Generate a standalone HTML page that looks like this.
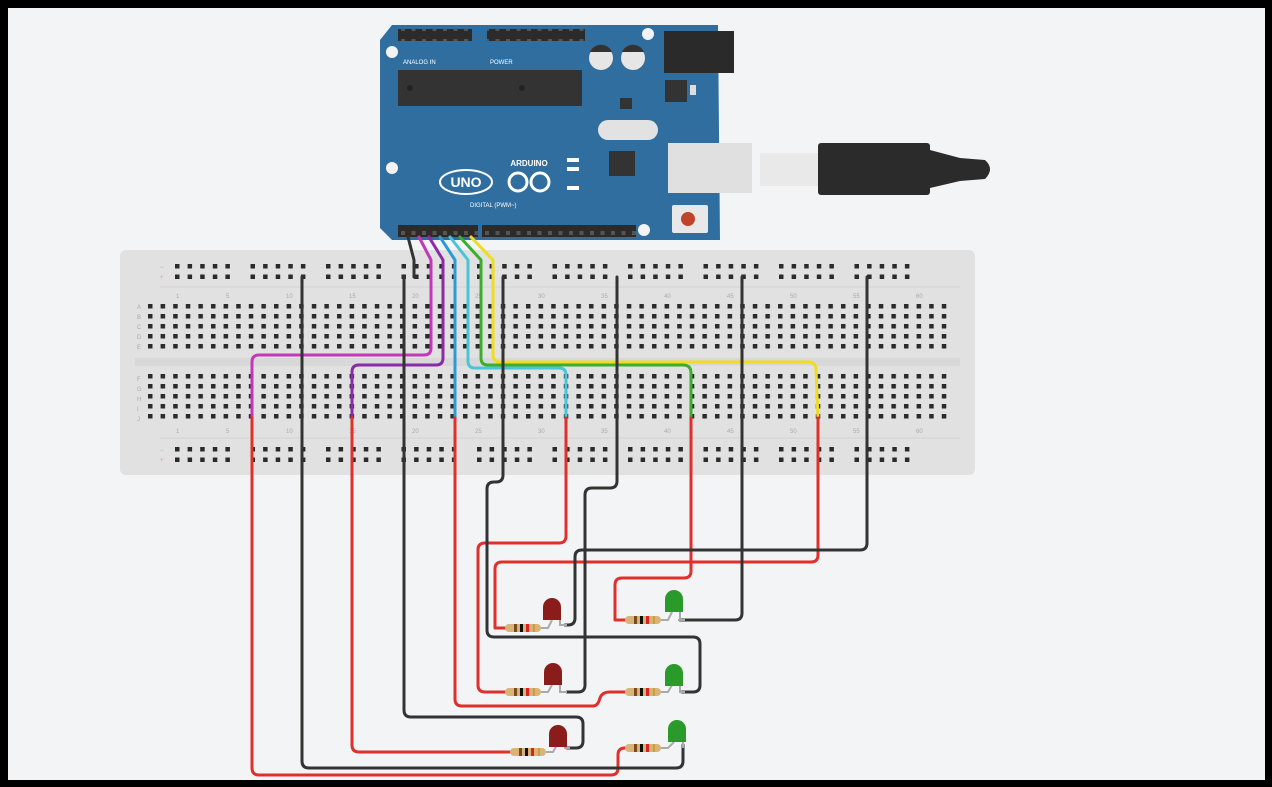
<!DOCTYPE html>
<html><head><meta charset="utf-8"><style>
html,body{margin:0;padding:0;background:#000;}
svg{display:block;}
</style></head><body>
<svg width="1272" height="787" viewBox="0 0 1272 787" xmlns="http://www.w3.org/2000/svg" font-family="Liberation Sans, sans-serif">
<defs>
<pattern id="dots" x="147" y="302" width="12.6" height="10" patternUnits="userSpaceOnUse">
<rect x="1" y="2" width="4.5" height="4.5" fill="#2a2a2a"/></pattern>
<pattern id="rail" x="175" y="263" width="75.5" height="10.5" patternUnits="userSpaceOnUse">
<rect x="0" y="1" width="4.5" height="4.5" fill="#2a2a2a"/><rect x="12.6" y="1" width="4.5" height="4.5" fill="#2a2a2a"/><rect x="25.2" y="1" width="4.5" height="4.5" fill="#2a2a2a"/><rect x="37.8" y="1" width="4.5" height="4.5" fill="#2a2a2a"/><rect x="50.4" y="1" width="4.5" height="4.5" fill="#2a2a2a"/></pattern>
<pattern id="rail2" x="175" y="446" width="75.5" height="10.5" patternUnits="userSpaceOnUse">
<rect x="0" y="1" width="4.5" height="4.5" fill="#2a2a2a"/><rect x="12.6" y="1" width="4.5" height="4.5" fill="#2a2a2a"/><rect x="25.2" y="1" width="4.5" height="4.5" fill="#2a2a2a"/><rect x="37.8" y="1" width="4.5" height="4.5" fill="#2a2a2a"/><rect x="50.4" y="1" width="4.5" height="4.5" fill="#2a2a2a"/></pattern>
<pattern id="hdr" x="398" y="0" width="10.5" height="12" patternUnits="userSpaceOnUse">
<rect x="0" y="0" width="10.5" height="12" fill="#2b2b2b"/><rect x="3" y="3" width="4" height="4" fill="#555"/></pattern>
<g id="res"><rect x="0" y="-4" width="36" height="8" rx="4" fill="#d9b47a"/><rect x="9" y="-4" width="3" height="8" fill="#7a4a1a"/><rect x="15" y="-4" width="3" height="8" fill="#111"/><rect x="21" y="-4" width="3" height="8" fill="#e02020"/><rect x="28" y="-4" width="2" height="8" fill="#c8a040"/></g>
</defs>
<rect x="0" y="0" width="1272" height="787" fill="#000"/>
<rect x="8" y="8" width="1257" height="772" fill="#f3f4f6"/>

<!-- breadboard -->
<rect x="120" y="250" width="855" height="225" rx="6" fill="#e1e1e1"/>
<line x1="160" y1="287" x2="960" y2="287" stroke="#d2d2d2"/>
<line x1="160" y1="438" x2="960" y2="438" stroke="#d2d2d2"/>
<rect x="135" y="358" width="825" height="8" fill="#d8d8d8"/>
<rect x="147" y="302" width="800" height="50" fill="url(#dots)"/>
<rect x="147" y="374" width="800" height="50" fill="url(#dots)" style="transform:translateY(0)"/>
<rect x="175" y="263" width="755" height="21" fill="url(#rail)"/>
<rect x="175" y="446" width="755" height="21" fill="url(#rail2)"/>
<g font-size="6" fill="#aaa">
<text x="176" y="298">1</text><text x="226" y="298">5</text><text x="286" y="298">10</text><text x="349" y="298">15</text><text x="412" y="298">20</text><text x="475" y="298">25</text><text x="538" y="298">30</text><text x="601" y="298">35</text><text x="664" y="298">40</text><text x="727" y="298">45</text><text x="790" y="298">50</text><text x="853" y="298">55</text><text x="916" y="298">60</text>
<text x="176" y="433">1</text><text x="226" y="433">5</text><text x="286" y="433">10</text><text x="349" y="433">15</text><text x="412" y="433">20</text><text x="475" y="433">25</text><text x="538" y="433">30</text><text x="601" y="433">35</text><text x="664" y="433">40</text><text x="727" y="433">45</text><text x="790" y="433">50</text><text x="853" y="433">55</text><text x="916" y="433">60</text>
<text x="137" y="309">A</text><text x="137" y="319">B</text><text x="137" y="329">C</text><text x="137" y="339">D</text><text x="137" y="349">E</text>
<text x="137" y="381">F</text><text x="137" y="391">G</text><text x="137" y="401">H</text><text x="137" y="411">I</text><text x="137" y="421">J</text>
<text x="160" y="269" fill="#9bc">−</text><text x="160" y="279" fill="#e99">+</text><text x="160" y="452" fill="#9bc">−</text><text x="160" y="462" fill="#e99">+</text>
</g>

<!-- Arduino -->
<path d="M392 25 L718 25 L720 240 L392 240 L380 228 L380 40 Z" fill="#2f6e9f"/>
<rect x="398" y="29" width="74" height="12" fill="url(#hdr)"/>
<rect x="487" y="29" width="98" height="12" fill="url(#hdr)"/>
<rect x="398" y="225" width="80" height="12" fill="url(#hdr)"/>
<rect x="482" y="225" width="154" height="12" fill="url(#hdr)"/>
<rect x="398" y="70" width="184" height="36" fill="#333"/>
<circle cx="410" cy="88" r="3" fill="#222"/><circle cx="522" cy="88" r="3" fill="#222"/>
<circle cx="392" cy="52" r="6" fill="#f3f3f3"/><circle cx="648" cy="34" r="6" fill="#f3f3f3"/><circle cx="392" cy="168" r="6" fill="#f3f3f3"/><circle cx="644" cy="230" r="6" fill="#f3f3f3"/>
<circle cx="601" cy="58" r="12" fill="#e6e6e6"/><circle cx="633" cy="58" r="12" fill="#e6e6e6"/>
<path d="M590 52 A12 12 0 0 1 612 52 Z" fill="#333"/><path d="M622 52 A12 12 0 0 1 644 52 Z" fill="#333"/>
<rect x="664" y="31" width="70" height="42" fill="#2a2a2a"/>
<rect x="665" y="80" width="22" height="22" fill="#333"/><rect x="690" y="85" width="6" height="10" fill="#ddd"/>
<rect x="620" y="98" width="12" height="11" fill="#333"/>
<rect x="598" y="120" width="60" height="20" rx="10" fill="#e2e2e2"/>
<rect x="609" y="151" width="26" height="25" fill="#333"/>
<rect x="668" y="143" width="84" height="50" fill="#e0e0e0"/>
<rect x="760" y="153" width="60" height="33" fill="#e9e9e9"/>
<rect x="818" y="143" width="112" height="52" rx="3" fill="#2b2b2b"/>
<path d="M930 150 L960 158 L985 160 Q995 169 985 179 L960 181 L930 188 Z" fill="#2b2b2b"/>
<rect x="672" y="205" width="36" height="28" rx="2" fill="#e8e8e8"/><circle cx="688" cy="219" r="7" fill="#c0442a"/>
<g fill="#fff">
<ellipse cx="466" cy="182" rx="26" ry="12" fill="none" stroke="#fff" stroke-width="2"/>
<text x="466" y="187" font-size="14" font-weight="bold" text-anchor="middle">UNO</text>
<circle cx="518" cy="182" r="9" fill="none" stroke="#fff" stroke-width="3"/><circle cx="540" cy="182" r="9" fill="none" stroke="#fff" stroke-width="3"/>
<text x="529" y="166" font-size="8" text-anchor="middle" font-weight="bold">ARDUINO</text>
<text x="470" y="207" font-size="6">DIGITAL (PWM~)</text>
<text x="403" y="64" font-size="6">ANALOG IN</text><text x="490" y="64" font-size="6">POWER</text>
<rect x="567" y="158" width="12" height="4" /><rect x="567" y="167" width="12" height="4"/><rect x="567" y="186" width="12" height="4"/>
</g>

<!-- Wires -->
<g fill="none" stroke-width="3" stroke-linejoin="round" stroke-linecap="round">
<path d="M408 237 L414 260 L414 277" stroke="#333"/>
<path d="M419 237 L431 260 L431 348 Q431 355 424 355 L259 355 Q252 355 252 362 L252 418" stroke="#c536b8"/>
<path d="M429 237 L443 260 L443 358 Q443 365 436 365 L359 365 Q352 365 352 372 L352 418" stroke="#8a2ca8"/>
<path d="M440 237 L455 260 L455 418" stroke="#2d9ad8"/>
<path d="M450 237 L468 260 L468 361 Q468 368 475 368 L559 368 Q566 368 566 375 L566 418" stroke="#4cc4d8"/>
<path d="M460 237 L481 260 L481 358 Q481 365 488 365 L683 365 Q691 365 691 373 L691 418" stroke="#3cae2c"/>
<path d="M471 237 L493 260 L493 355 Q493 362 500 362 L808 362 Q816 362 816 370 L818 418" stroke="#f0dc20"/>
<!-- red -->
<path d="M252 418 L252 768 Q252 775 259 775 L611 775 Q618 775 618 768 L618 755 Q618 748 625 748" stroke="#e0302c"/>
<path d="M352 418 L352 745 Q352 752 359 752 L510 752" stroke="#e0302c"/>
<path d="M455 418 L455 699 Q455 706 462 706 L593 706 Q598 706 600 698 Q602 692 610 692 L625 692" stroke="#e0302c"/>
<path d="M566 418 L566 536 Q566 543 559 543 L485 543 Q478 543 478 550 L478 685 Q478 692 485 692 L505 692" stroke="#e0302c"/>
<path d="M691 418 L691 571 Q691 578 684 578 L622 578 Q615 578 615 585 L615 620 L625 620" stroke="#e0302c"/>
<path d="M818 418 L818 555 Q818 562 811 562 L502 562 Q495 562 495 569 L495 628 L505 628" stroke="#e0302c"/>
<!-- black -->
<path d="M302 277 L302 761 Q302 768 309 768 L676 768 Q683 768 683 761 L683 745" stroke="#333"/>
<path d="M404 277 L404 710 Q404 717 411 717 L576 717 Q583 717 583 724 L583 741 Q583 748 576 748 L567 748" stroke="#333"/>
<path d="M503 277 L503 475 Q503 482 496 482 L494 482 Q487 482 487 489 L487 630 Q487 637 494 637 L693 637 Q700 637 700 644 L700 685 Q700 692 693 692 L682 692" stroke="#333"/>
<path d="M617 277 L617 481 Q617 488 610 488 L592 488 Q585 488 585 495 L585 685 Q585 692 578 692 L567 692" stroke="#333"/>
<path d="M742 277 L742 613 Q742 620 735 620 L680 620" stroke="#333"/>
<path d="M867 277 L867 543 Q867 550 860 550 L582 550 Q575 550 575 557 L575 618 Q575 625 568 625 L565 625" stroke="#333"/>
</g>

<!-- LEDs and resistors -->
<g stroke="#aaa" stroke-width="2" fill="none">
<path d="M541 628 L548 628 L552 620"/><path d="M560 620 L560 625 L567 625"/>
<path d="M541 692 L548 692 L552 685"/><path d="M560 685 L560 692 L567 692"/>
<path d="M546 752 L553 752 L557 745"/><path d="M565 745 L565 748 L570 748"/>
<path d="M661 620 L668 620 L672 612"/><path d="M680 612 L680 620 L685 620"/>
<path d="M661 692 L668 692 L672 685"/><path d="M680 685 L680 692 L685 692"/>
<path d="M661 748 L668 748 L674 742"/><path d="M683 742 L683 748"/>
</g>
<use href="#res" x="505" y="628"/><use href="#res" x="505" y="692"/><use href="#res" x="510" y="752"/>
<use href="#res" x="625" y="620"/><use href="#res" x="625" y="692"/><use href="#res" x="625" y="748"/>
<g fill="#8a1c1c">
<path d="M543 620 L543 607 A9 9 0 0 1 561 607 L561 620 Z"/>
<path d="M544 685 L544 672 A9 9 0 0 1 562 672 L562 685 Z"/>
<path d="M549 747 L549 734 A9 9 0 0 1 567 734 L567 747 Z"/>
</g>
<g fill="#2a9a2a">
<path d="M665 612 L665 599 A9 9 0 0 1 683 599 L683 612 Z"/>
<path d="M665 686 L665 673 A9 9 0 0 1 683 673 L683 686 Z"/>
<path d="M668 742 L668 729 A9 9 0 0 1 686 729 L686 742 Z"/>
</g>
</svg>
</body></html>
